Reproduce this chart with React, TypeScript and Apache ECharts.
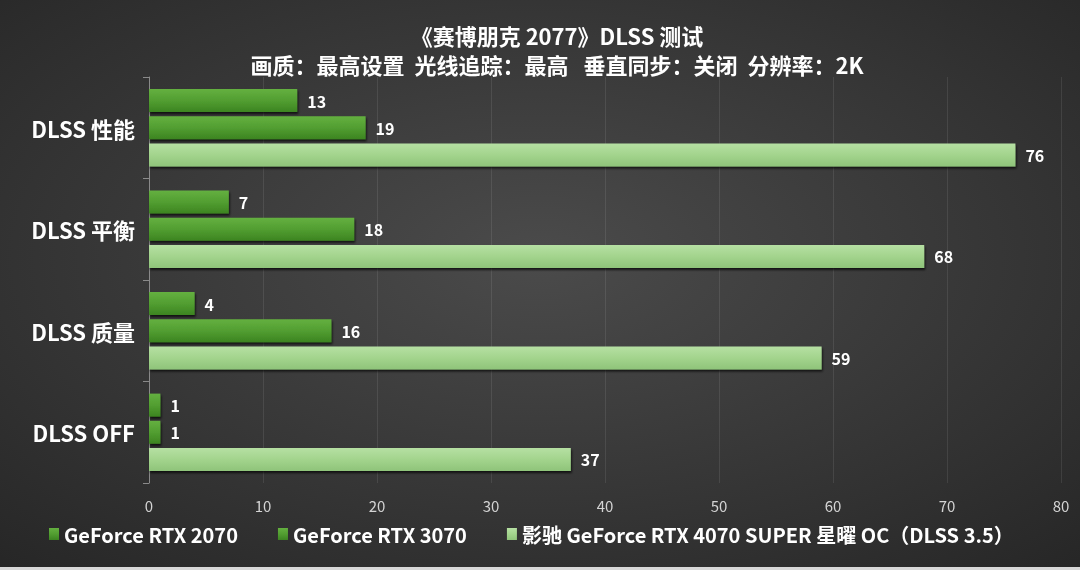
import React, { useEffect, useRef } from "react";
import * as echarts from "echarts";

const categories = ["DLSS 性能", "DLSS 平衡", "DLSS 质量", "DLSS OFF"];
const seriesNames = [
  "GeForce RTX 2070",
  "GeForce RTX 3070",
  "影驰 GeForce RTX 4070 SUPER 星曜 OC（DLSS 3.5）",
];
const rtx2070 = [13, 7, 4, 1];
const rtx3070 = [19, 18, 16, 1];
const rtx4070s = [76, 68, 59, 37];
const titleText = "《赛博朋克 2077》DLSS 测试";
const subtitleText = "画质：最高设置  光线追踪：最高   垂直同步：关闭  分辨率：2K";

const FONT = "'Noto Sans CJK SC', 'Noto Sans', sans-serif";

const darkGreen = new echarts.graphic.LinearGradient(0, 0, 0, 1, [
  { offset: 0, color: "#64b040" },
  { offset: 0.5, color: "#529e31" },
  { offset: 1, color: "#3c8421" },
]);
const lightGreen = new echarts.graphic.LinearGradient(0, 0, 0, 1, [
  { offset: 0, color: "#b6e0a3" },
  { offset: 0.5, color: "#a3d48d" },
  { offset: 1, color: "#8fc47a" },
]);

function makeSeries(name: string, data: number[], color: any) {
  return {
    name,
    type: "bar",
    data,
    barWidth: 23,
    barGap: "18%",
    itemStyle: {
      color,
      shadowColor: "rgba(0,0,0,0.7)",
      shadowBlur: 2,
      shadowOffsetX: 1,
      shadowOffsetY: 2,
    },
    label: {
      show: true,
      position: "right",
      distance: 10,
      color: "#ffffff",
      fontSize: 16,
      fontWeight: "bold",
      fontFamily: FONT,
    },
  };
}

export default function App() {
  const ref = useRef<HTMLDivElement>(null);
  useEffect(() => {
    if (!ref.current) return;
    const chart = echarts.init(ref.current, null, { renderer: "svg" });
    chart.setOption({
      animation: false,
      backgroundColor: new echarts.graphic.RadialGradient(0.5, 0.45, 0.75, [
        { offset: 0, color: "#4b4b4b" },
        { offset: 1, color: "#262626" },
      ]),
      title: {
        text: titleText,
        subtext: subtitleText,
        left: 552,
        top: 17,
        itemGap: 3,
        textAlign: "center",
        textStyle: {
          color: "#ffffff",
          fontSize: 22,
          fontWeight: "bold",
          fontFamily: FONT,
          lineHeight: 26,
        },
        subtextStyle: {
          color: "#ffffff",
          fontSize: 22,
          fontWeight: "bold",
          fontFamily: FONT,
          lineHeight: 26,
        },
      },
      legend: {
        bottom: 21,
        left: 44,
        itemWidth: 10,
        itemHeight: 12,
        itemGap: 40,
        icon: "rect",
        textStyle: {
          color: "#ffffff",
          fontSize: 20,
          fontWeight: "bold",
          fontFamily: FONT,
        },
        data: seriesNames,
      },
      grid: { left: 149, right: 19, top: 77, bottom: 87 },
      xAxis: {
        type: "value",
        min: 0,
        max: 80,
        interval: 10,
        axisLine: { show: false },
        axisTick: { show: false },
        axisLabel: { color: "#d4d4d4", fontSize: 15, margin: 15, fontFamily: FONT },
        splitLine: { lineStyle: { color: "rgba(255,255,255,0.09)", width: 1 } },
      },
      yAxis: {
        type: "category",
        inverse: true,
        data: categories,
        axisLine: { show: true, lineStyle: { color: "#8a8a8a", width: 1 } },
        axisTick: { show: true, length: 6, lineStyle: { color: "#8a8a8a" } },
        axisLabel: {
          color: "#ffffff",
          fontSize: 22,
          fontWeight: "bold",
          fontFamily: FONT,
          margin: 14,
        },
      },
      series: [
        makeSeries(seriesNames[0], rtx2070, darkGreen),
        makeSeries(seriesNames[1], rtx3070, darkGreen),
        makeSeries(seriesNames[2], rtx4070s, lightGreen),
      ],
      graphic: [
        {
          type: "rect",
          left: 0,
          bottom: 0,
          shape: { width: 1080, height: 3 },
          style: { fill: "#d8d8d8" },
        },
      ],
    });
    return () => chart.dispose();
  }, []);
  return (
    <div
      ref={ref}
      style={{ position: "fixed", left: 0, top: 0, width: 1080, height: 570 }}
    />
  );
}
